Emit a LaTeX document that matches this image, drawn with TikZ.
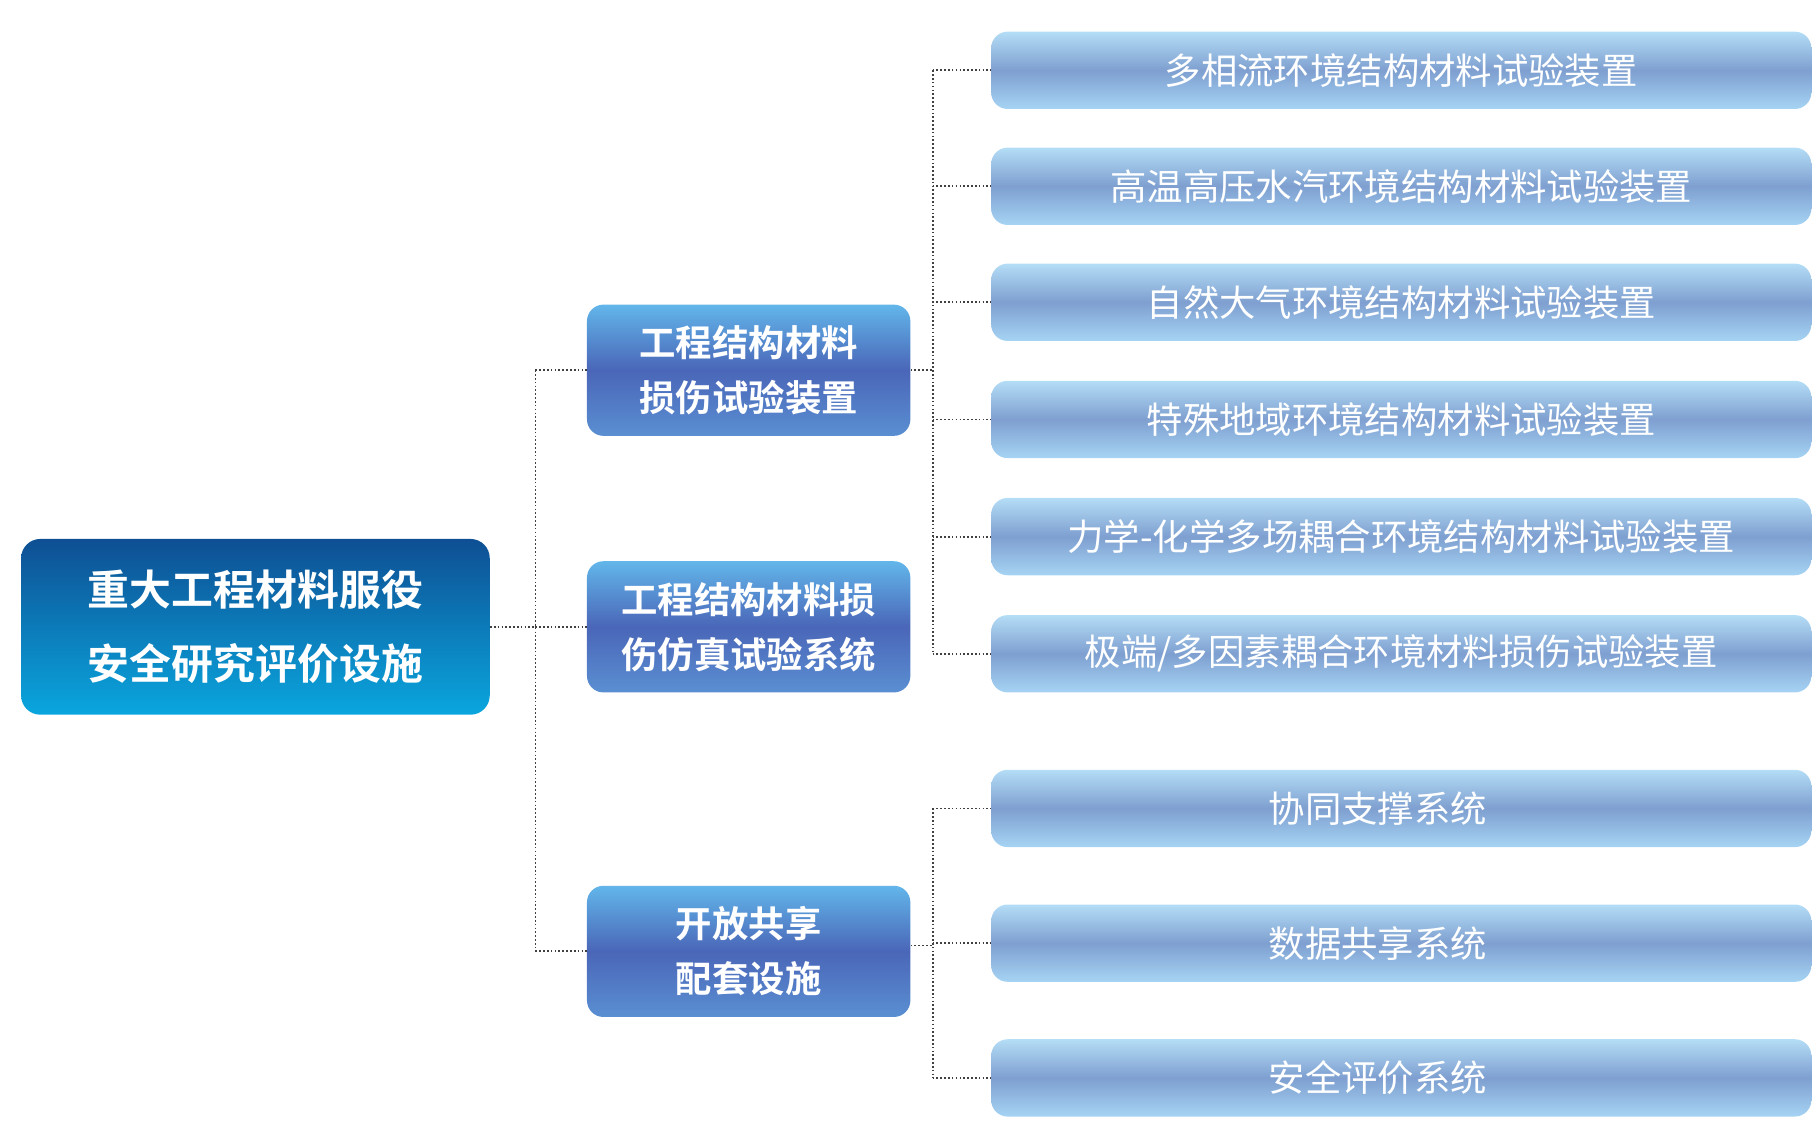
\documentclass[tikz,border=0pt]{standalone}
\usepackage{fontspec}
\setmainfont{Noto Sans CJK SC}[BoldFont={Noto Sans CJK SC Bold}]
\usetikzlibrary{positioning}
\definecolor{rootTop}{HTML}{0E4F93}
\definecolor{rootBot}{HTML}{0AA6DE}
\definecolor{midTop}{HTML}{62B6EA}
\definecolor{midMid}{HTML}{4A66B8}
\definecolor{midBot}{HTML}{5A8FD2}
\definecolor{leafTop}{HTML}{B4DDF6}
\definecolor{leafMid}{HTML}{7E9FD0}
\definecolor{leafBot}{HTML}{A6D4F4}
\tikzset{
  rootbox/.style={rounded corners=14pt, minimum width=12cm, minimum height=4.5cm,
    top color=rootTop, bottom color=rootBot, text=white, font=\fontsize{30.5}{54}\selectfont\bfseries, align=center},
  midbox/.style={rounded corners=12pt, minimum width=8.28cm, minimum height=3.36cm,
    shading=axis, top color=midTop, bottom color=midBot, middle color=midMid, text=white,
    font=\fontsize{26.5}{40}\selectfont\bfseries, align=center},
  leafbox/.style={rounded corners=12pt, minimum width=21cm, minimum height=1.98cm,
    top color=leafTop, bottom color=leafBot, middle color=leafMid, text=white,
    font=\fontsize{26.5}{30}\selectfont},
  link/.style={dash pattern=on 1.2pt off 1.6pt, draw=black!75, line width=1.3pt}
}
\begin{document}
\begin{tikzpicture}[x=0.03cm,y=-0.03cm]
        \useasboundingbox (0,0) rectangle (1550,969);
        \node [rootbox] (root) at (218,535) {重大工程材料服役\\安全研究评价设施};
        \node [midbox] (matA) at (639,316) {工程结构材料\\损伤试验装置};
        \node [midbox] (matB) at (639,535) {工程结构材料损\\伤仿真试验系统};
        \node [midbox] (share) at (639,812) {开放共享\\配套设施};
        % leaves of the first group
        \foreach \i/\y/\t in {1/60/{多相流环境结构材料试验装置},
                              2/159/{高温高压水汽环境结构材料试验装置},
                              3/258/{自然大气环境结构材料试验装置},
                              4/358/{特殊地域环境结构材料试验装置},
                              5/458/{力学-化学多场耦合环境结构材料试验装置},
                              6/558/{极端/多因素耦合环境材料损伤试验装置}}
          \node [leafbox] (dev\i) at (1196,\y) {\t};
        % leaves of the second group
        \foreach \i/\y/\t in {1/690/协同支撑系统, 2/805/数据共享系统, 3/920/安全评价系统}
          \node [leafbox] (sys\i) at (1196,\y) {\hspace*{-1.2cm}\t};
        \coordinate (rj) at (457,535);
        \coordinate (aj) at (796,316);
        \coordinate (cj) at (796,807);
        \draw [link] (root.east) -- (rj);
        \draw [link] (rj |- matA) -- (rj |- share);
        \foreach \m in {matA,matB,share}
          \draw [link] (rj |- \m) -- (\m.west);
        \draw [link] (matA.east) -- (aj);
        \draw [link] (aj |- dev1) -- (aj |- dev6);
        \foreach \i in {1,...,6}
          \draw [link] (aj |- dev\i) -- (dev\i.west);
        \draw [link] (share.east |- cj) -- (cj);
        \draw [link] (cj |- sys1) -- (cj |- sys3);
        \foreach \i in {1,2,3}
          \draw [link] (cj |- sys\i) -- (sys\i.west);
\end{tikzpicture}
\end{document}
